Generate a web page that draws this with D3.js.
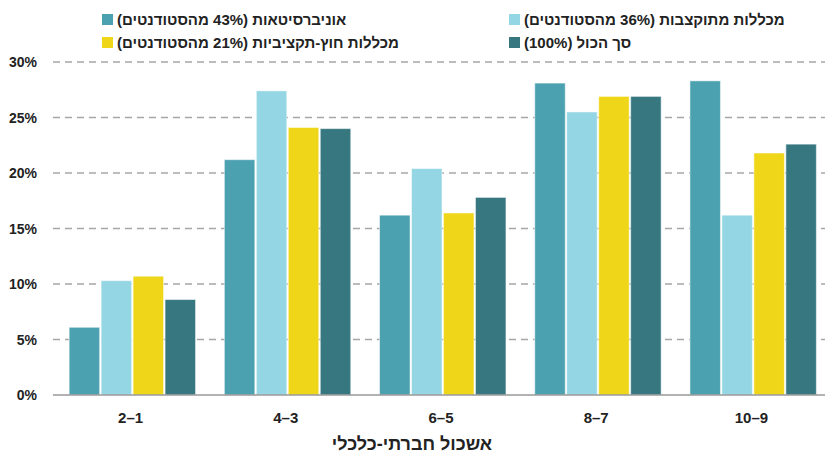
<!DOCTYPE html>
<html lang="he">
<head>
<meta charset="utf-8">
<script src="https://cdn.jsdelivr.net/npm/d3@7"></script>
<style>
    body { margin: 0; background: #fff; }
    text { font-family: "Liberation Sans", "DejaVu Sans", sans-serif; }
</style>
</head>
<body>
<div id="chart"></div>
<script>
// data
const groups = ["2–1", "4–3", "6–5", "8–7", "10–9"];
const seriesKeys = ["univ", "budgeted", "nonBudget", "total"];
const univ = [6.1, 21.2, 16.2, 28.1, 28.3];
const budgeted = [10.3, 27.4, 20.4, 25.5, 16.2];
const nonBudget = [10.7, 24.1, 16.4, 26.9, 21.8];
const total = [8.6, 24.0, 17.8, 26.9, 22.6];
const yTicks = [0, 5, 10, 15, 20, 25, 30];

const seriesNames = {
    univ: "אוניברסיטאות (43% מהסטודנטים)",
    budgeted: "מכללות מתוקצבות (36% מהסטודנטים)",
    nonBudget: "מכללות חוץ-תקציביות (21% מהסטודנטים)",
    total: "סך הכול (100%)"
};
const colors = {
    univ: "#4ba1af",
    budgeted: "#94d6e3",
    nonBudget: "#f0d619",
    total: "#377880"
};
const values = { univ, budgeted, nonBudget, total };

const width = 825, height = 455;

const svg = d3.select("#chart")
    .append("svg")
    .attr("width", width)
    .attr("height", height);

const x = d3.scaleBand()
    .domain(groups)
    .range([55, 831])
    .paddingInner(0.176)
    .paddingOuter(0.088);

const xInner = d3.scaleBand()
    .domain(seriesKeys)
    .range([0, x.bandwidth()]);

const y = d3.scaleLinear()
    .domain([0, 30])
    .range([395, 62]);

// gridlines
svg.append("g")
    .selectAll("line")
    .data(yTicks.filter(d => d > 0))
    .enter()
    .append("line")
    .attr("x1", 53)
    .attr("x2", 825)
    .attr("y1", d => y(d))
    .attr("y2", d => y(d))
    .attr("stroke", "#a6a6a6")
    .attr("stroke-width", 1.3)
    .attr("stroke-dasharray", "7,5");

// y labels
svg.append("g")
    .selectAll("text")
    .data(yTicks)
    .enter()
    .append("text")
    .attr("x", 37)
    .attr("y", d => y(d) + 5)
    .attr("text-anchor", "end")
    .attr("font-size", "14px")
    .attr("font-weight", "bold")
    .attr("fill", "#222")
    .text(d => d + "%");

// bars
const groupG = svg.append("g")
    .selectAll("g")
    .data(groups)
    .enter()
    .append("g")
    .attr("transform", d => `translate(${x(d)},0)`);

groupG.selectAll("rect")
    .data((g, i) => seriesKeys.map(k => ({ key: k, value: values[k][i] })))
    .enter()
    .append("rect")
    .attr("x", d => xInner(d.key) + 0.5)
    .attr("y", d => y(d.value))
    .attr("width", xInner.bandwidth() - 1.5)
    .attr("height", d => y(0) - y(d.value))
    .attr("fill", d => colors[d.key])
    .attr("stroke", "#ffffff")
    .attr("stroke-opacity", 0.5)
    .attr("stroke-width", 1);

// baseline
svg.append("line")
    .attr("x1", 53)
    .attr("x2", 825)
    .attr("y1", y(0))
    .attr("y2", y(0))
    .attr("stroke", "#999")
    .attr("stroke-width", 1.3);

// x labels
svg.append("g")
    .selectAll("text")
    .data(groups)
    .enter()
    .append("text")
    .attr("x", d => x(d) + x.bandwidth() / 2 - 2)
    .attr("y", 423)
    .attr("text-anchor", "middle")
    .attr("font-size", "15px")
    .attr("font-weight", "bold")
    .attr("fill", "#222")
    .text(d => d);

svg.append("text")
    .attr("x", 412)
    .attr("y", 450)
    .attr("text-anchor", "middle")
    .attr("font-size", "18px")
    .attr("font-weight", "bold")
    .attr("fill", "#222")
    .attr("direction", "rtl")
    .text("אשכול חברתי-כלכלי");

// legend
const legendItems = [
    { key: "univ", x: 102, y: 14 },
    { key: "budgeted", x: 509, y: 14 },
    { key: "nonBudget", x: 102, y: 37 },
    { key: "total", x: 509, y: 37 }
];

const legend = svg.append("g")
    .selectAll("g")
    .data(legendItems)
    .enter()
    .append("g")
    .attr("transform", d => `translate(${d.x},${d.y})`);

legend.append("rect")
    .attr("width", 11)
    .attr("height", 11)
    .attr("fill", d => colors[d.key]);

legend.append("text")
    .attr("x", 15)
    .attr("y", 11)
    .attr("text-anchor", "end")
    .attr("direction", "rtl")
    .attr("font-size", "15px")
    .attr("font-weight", "bold")
    .attr("fill", "#222")
    .text(d => seriesNames[d.key]);
</script>
</body>
</html>
